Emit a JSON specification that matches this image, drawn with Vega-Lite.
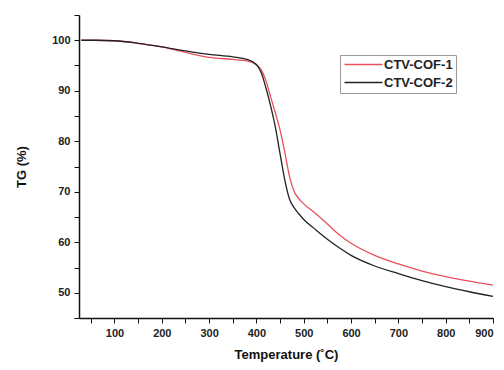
{
  "$schema": "https://vega.github.io/schema/vega-lite/v6.json",
  "autosize": "none",
  "width": 414,
  "height": 303,
  "padding": {"left": 79, "top": 15, "right": 11, "bottom": 52},
  "background": "white",
  "config": {
    "view": {"stroke": null},
    "axis": {
      "grid": false,
      "domainColor": "#111",
      "domainWidth": 1.5,
      "tickColor": "#111",
      "tickWidth": 1,
      "tickSize": 5,
      "labelFont": "Liberation Sans",
      "labelFontWeight": "bold",
      "labelFontSize": 11,
      "labelColor": "#222",
      "titleFont": "Liberation Sans",
      "titleFontWeight": "bold",
      "titleFontSize": 13,
      "titleColor": "#111"
    },
    "legend": {
      "labelFont": "Liberation Sans",
      "labelFontWeight": "bold",
      "labelFontSize": 13,
      "labelColor": "#222"
    }
  },
  "data": {
    "values": [
      {"T": 30, "TG": 100, "s": "CTV-COF-1"},
      {"T": 60, "TG": 100, "s": "CTV-COF-1"},
      {"T": 100, "TG": 99.9, "s": "CTV-COF-1"},
      {"T": 150, "TG": 99.4, "s": "CTV-COF-1"},
      {"T": 200, "TG": 98.7, "s": "CTV-COF-1"},
      {"T": 250, "TG": 97.6, "s": "CTV-COF-1"},
      {"T": 300, "TG": 96.6, "s": "CTV-COF-1"},
      {"T": 350, "TG": 96.2, "s": "CTV-COF-1"},
      {"T": 380, "TG": 95.9, "s": "CTV-COF-1"},
      {"T": 400, "TG": 95.1, "s": "CTV-COF-1"},
      {"T": 410, "TG": 94.2, "s": "CTV-COF-1"},
      {"T": 420, "TG": 92.0, "s": "CTV-COF-1"},
      {"T": 430, "TG": 88.8, "s": "CTV-COF-1"},
      {"T": 440, "TG": 85.6, "s": "CTV-COF-1"},
      {"T": 450, "TG": 82.2, "s": "CTV-COF-1"},
      {"T": 460, "TG": 77.8, "s": "CTV-COF-1"},
      {"T": 470, "TG": 73.0, "s": "CTV-COF-1"},
      {"T": 480, "TG": 70.0, "s": "CTV-COF-1"},
      {"T": 490, "TG": 68.6, "s": "CTV-COF-1"},
      {"T": 500, "TG": 67.6, "s": "CTV-COF-1"},
      {"T": 525, "TG": 65.7, "s": "CTV-COF-1"},
      {"T": 550, "TG": 63.6, "s": "CTV-COF-1"},
      {"T": 575, "TG": 61.5, "s": "CTV-COF-1"},
      {"T": 600, "TG": 59.8, "s": "CTV-COF-1"},
      {"T": 650, "TG": 57.4, "s": "CTV-COF-1"},
      {"T": 700, "TG": 55.7, "s": "CTV-COF-1"},
      {"T": 750, "TG": 54.3, "s": "CTV-COF-1"},
      {"T": 800, "TG": 53.2, "s": "CTV-COF-1"},
      {"T": 850, "TG": 52.3, "s": "CTV-COF-1"},
      {"T": 900, "TG": 51.5, "s": "CTV-COF-1"},
      {"T": 30, "TG": 100, "s": "CTV-COF-2"},
      {"T": 60, "TG": 100, "s": "CTV-COF-2"},
      {"T": 100, "TG": 99.9, "s": "CTV-COF-2"},
      {"T": 150, "TG": 99.4, "s": "CTV-COF-2"},
      {"T": 200, "TG": 98.7, "s": "CTV-COF-2"},
      {"T": 250, "TG": 97.9, "s": "CTV-COF-2"},
      {"T": 300, "TG": 97.2, "s": "CTV-COF-2"},
      {"T": 350, "TG": 96.7, "s": "CTV-COF-2"},
      {"T": 380, "TG": 96.2, "s": "CTV-COF-2"},
      {"T": 400, "TG": 95.2, "s": "CTV-COF-2"},
      {"T": 410, "TG": 93.6, "s": "CTV-COF-2"},
      {"T": 420, "TG": 90.6, "s": "CTV-COF-2"},
      {"T": 430, "TG": 87.0, "s": "CTV-COF-2"},
      {"T": 440, "TG": 82.8, "s": "CTV-COF-2"},
      {"T": 450, "TG": 77.5, "s": "CTV-COF-2"},
      {"T": 460, "TG": 72.3, "s": "CTV-COF-2"},
      {"T": 470, "TG": 68.5, "s": "CTV-COF-2"},
      {"T": 480, "TG": 66.8, "s": "CTV-COF-2"},
      {"T": 490, "TG": 65.6, "s": "CTV-COF-2"},
      {"T": 500, "TG": 64.5, "s": "CTV-COF-2"},
      {"T": 525, "TG": 62.5, "s": "CTV-COF-2"},
      {"T": 550, "TG": 60.6, "s": "CTV-COF-2"},
      {"T": 575, "TG": 58.9, "s": "CTV-COF-2"},
      {"T": 600, "TG": 57.4, "s": "CTV-COF-2"},
      {"T": 650, "TG": 55.3, "s": "CTV-COF-2"},
      {"T": 700, "TG": 53.8, "s": "CTV-COF-2"},
      {"T": 750, "TG": 52.4, "s": "CTV-COF-2"},
      {"T": 800, "TG": 51.2, "s": "CTV-COF-2"},
      {"T": 850, "TG": 50.2, "s": "CTV-COF-2"},
      {"T": 900, "TG": 49.3, "s": "CTV-COF-2"}
    ]
  },
  "mark": {"type": "line", "interpolate": "monotone", "strokeWidth": 1.3},
  "encoding": {
    "x": {
      "field": "T",
      "type": "quantitative",
      "scale": {"domain": [25, 900], "nice": false, "zero": false},
      "axis": {
        "title": "Temperature (˚C)",
        "values": [50, 100, 150, 200, 250, 300, 350, 400, 450, 500, 550, 600, 650, 700, 750, 800, 850, 900],
        "labelExpr": "datum.value % 100 == 0 ? datum.label : ''",
        "labelPadding": 4,
        "titlePadding": 10
      }
    },
    "y": {
      "field": "TG",
      "type": "quantitative",
      "scale": {"domain": [45, 105], "nice": false, "zero": false},
      "axis": {
        "title": "TG (%)",
        "values": [45, 50, 55, 60, 65, 70, 75, 80, 85, 90, 95, 100, 105],
        "labelExpr": "datum.value % 10 == 0 ? datum.label : ''",
        "labelPadding": 4,
        "titlePadding": 23
      }
    },
    "color": {
      "field": "s",
      "type": "nominal",
      "scale": {"domain": ["CTV-COF-1", "CTV-COF-2"], "range": ["#e8505e", "#222222"]},
      "legend": {
        "title": null,
        "orient": "none",
        "legendX": 261,
        "legendY": 40,
        "symbolType": "M-4,0H4",
        "symbolSize": 90,
        "symbolStrokeWidth": 1.5,
        "symbolOffset": 14,
        "strokeColor": "#999",
        "fillColor": "white",
        "padding": 3,
        "labelOffset": 14,
        "rowPadding": 4
      }
    }
  }
}
